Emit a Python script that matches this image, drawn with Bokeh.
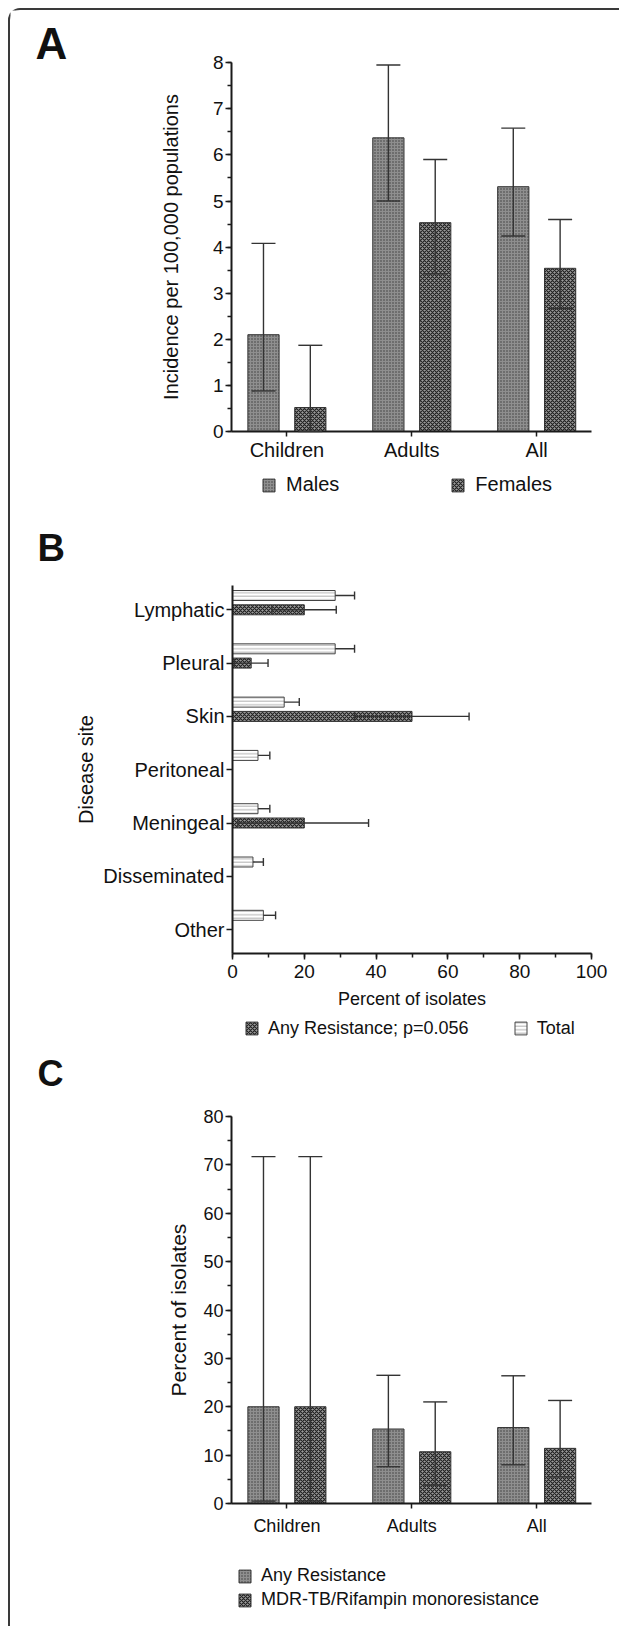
from bokeh.plotting import figure
from bokeh.models import (ColumnDataSource, Range1d, Whisker, TeeHead, Legend, LegendItem,
                          Label, FixedTicker, SingleIntervalTicker, LinearAxis)
from bokeh.layouts import column
from bokeh.transform import dodge
from bokeh.embed import file_html
from bokeh.resources import INLINE

FONT = "Liberation Sans"

# ---------------- Panel A data ----------------
groups = ["Children", "Adults", "All"]
males = [2.10, 6.37, 5.31]
males_lo = [0.88, 5.00, 4.24]
males_hi = [4.08, 7.95, 6.58]
females = [0.52, 4.53, 3.54]
females_lo = [0.00, 3.42, 2.67]
females_hi = [1.87, 5.90, 4.60]

# ---------------- Panel B data ----------------
sites = ["Lymphatic", "Pleural", "Skin", "Peritoneal", "Meningeal", "Disseminated", "Other"]
total = [28.6, 28.6, 14.4, 7.1, 7.1, 5.7, 8.6]
total_hi = [34.0, 34.0, 18.6, 10.4, 10.4, 8.6, 12.0]
resist = [20.0, 5.2, 50.0, 0.0, 20.0, 0.0, 0.0]
resist_lo = [11.0, 0.5, 34.0, 0.0, 1.5, 0.0, 0.0]
resist_hi = [28.9, 9.9, 65.9, 0.0, 37.9, 0.0, 0.0]

# ---------------- Panel C data ----------------
c_groups = ["Children", "Adults", "All"]
any_res = [20.0, 15.4, 15.7]
any_lo = [0.5, 7.6, 8.0]
any_hi = [71.7, 26.5, 26.4]
mdr = [20.0, 10.7, 11.4]
mdr_lo = [0.5, 3.8, 5.5]
mdr_hi = [71.7, 21.0, 21.3]

# ---------------- styles ----------------
DOT = dict(fill_color="#8f8f8f", hatch_pattern="dot", hatch_color="#3c3c3c",
           hatch_scale=3, hatch_weight=1, line_color="#333333", line_width=1)
CHECK = dict(fill_color="#9a9a9a", hatch_pattern="diagonal_cross", hatch_color="#222222",
             hatch_scale=4, hatch_weight=1.2, line_color="#333333", line_width=1)
LINES = dict(fill_color="white", hatch_pattern="horizontal_line", hatch_color="#b0b0b0",
             hatch_scale=3.5, hatch_weight=1, line_color="#444444", line_width=1)
EBAR = "#333333"
FIG_W = 609
OX = 10  # page x of figures' left edge (8px margin + 2px border)


class Geo:
    """Maps page pixels to data values for a figure whose frame fills the figure."""

    def __init__(self, oy, h, xref_px, xref, xs, yref_px, yref, ys):
        self.oy, self.h = oy, h
        self.xref_px, self.xref, self.xs = xref_px, xref, xs
        self.yref_px, self.yref, self.ys = yref_px, yref, ys

    def x(self, px):
        return self.xref + (px - self.xref_px) / self.xs

    def y(self, py):
        return self.yref + (self.yref_px - py) / self.ys

    def ranges(self):
        return (Range1d(self.x(OX), self.x(OX + FIG_W)),
                Range1d(self.y(self.oy + self.h), self.y(self.oy)))

    def loc(self, px, py_bottom):
        return (px - OX, self.oy + self.h - py_bottom)


def make_fig(g):
    xr, yr = g.ranges()
    p = figure(width=FIG_W, height=g.h, x_range=xr, y_range=yr,
               output_backend="svg", toolbar_location=None,
               x_axis_location=None, y_axis_location=None,
               min_border=0, min_border_left=0, min_border_right=0,
               min_border_top=0, min_border_bottom=0)
    p.xgrid.visible = False
    p.ygrid.visible = False
    p.outline_line_color = None
    p.background_fill_color = "white"
    p.border_fill_color = "white"
    return p


def style_axis(ax, tick_size, label_size):
    ax.axis_line_width = 2
    ax.axis_line_color = "#1a1a1a"
    ax.major_tick_line_width = 1.5
    ax.major_tick_line_color = "#1a1a1a"
    ax.major_tick_in = 0
    ax.major_tick_out = 6
    ax.minor_tick_in = 0
    ax.minor_tick_out = 4
    ax.minor_tick_line_width = 1.5
    ax.minor_tick_line_color = "#1a1a1a"
    ax.major_label_text_font = FONT
    ax.major_label_text_font_size = tick_size
    ax.major_label_text_color = "#111111"
    ax.major_label_standoff = 2
    ax.axis_label_text_font = FONT
    ax.axis_label_text_font_style = "normal"
    ax.axis_label_text_font_size = label_size
    ax.axis_label_text_color = "#111111"


def whisker(src, base, lo, hi, size, dim="height", lower_head=True):
    head = dict(size=size, line_color=EBAR, line_width=1.4)
    w = Whisker(source=src, base=base, lower=lo, upper=hi, dimension=dim,
                line_color=EBAR, line_width=1.4,
                upper_head=TeeHead(**head),
                lower_head=TeeHead(**head) if lower_head else None)
    w.level = "overlay"
    return w


def legend(items, loc, orientation, spacing, size, standoff):
    return Legend(items=items, orientation=orientation, location=loc, padding=0, margin=0,
                  spacing=spacing, glyph_width=15, glyph_height=16, label_height=16,
                  label_standoff=standoff, label_text_font=FONT, label_text_font_size=size,
                  label_text_color="#111111", border_line_color=None,
                  background_fill_alpha=0)


def panel_label(g, text, px, py_base, size):
    # anchor shifted so that the visible letter bottom lands on py_base
    return Label(x=g.x(px), y=g.y(py_base - 0.37 * size), text=text, text_font=FONT,
                 text_font_style="bold", text_font_size=f"{size}px", text_color="#111111",
                 text_baseline="alphabetic")


OFF = 0.1875
BW = 0.25

# ================= Panel A =================
gA = Geo(oy=10, h=510, xref_px=286.4, xref=1, xs=124.9, yref_px=431, yref=0, ys=46.1)
A_XB = (gA.x(231), gA.x(591))
pA = make_fig(gA)
srcA = ColumnDataSource(dict(x=[i + 1 for i in range(len(groups))],
                             m=males, mlo=males_lo, mhi=males_hi,
                             f=females, flo=females_lo, fhi=females_hi))
rm = pA.vbar(x=dodge("x", -OFF, range=pA.x_range), top="m", width=BW, source=srcA, **DOT)
rf = pA.vbar(x=dodge("x", OFF, range=pA.x_range), top="f", width=BW, source=srcA, **CHECK)
pA.add_layout(whisker(srcA, dodge("x", -OFF, range=pA.x_range), "mlo", "mhi", 24))
pA.add_layout(whisker(srcA, dodge("x", OFF, range=pA.x_range), "flo", "fhi", 24))

yA = LinearAxis(ticker=SingleIntervalTicker(interval=1, num_minor_ticks=2),
                fixed_location=A_XB[0], bounds=(0, 8),
                axis_label="Incidence per 100,000 populations")
style_axis(yA, "19px", "20px")
yA.axis_label_standoff = 28
pA.add_layout(yA, "left")
xA = LinearAxis(ticker=FixedTicker(ticks=[i + 1 for i in range(len(groups))]),
                fixed_location=0, bounds=A_XB,
                major_label_overrides={i + 1: g for i, g in enumerate(groups)})
style_axis(xA, "20px", "20px")
xA.minor_tick_line_color = None
xA.major_tick_out = 5
pA.add_layout(xA, "below")
pA.add_layout(legend([LegendItem(label="Males", renderers=[rm]),
                      LegendItem(label="Females", renderers=[rf])],
                     gA.loc(261, 496), "horizontal", 111, "20px", 10))
pA.add_layout(panel_label(gA, "A", 35, 59, 44))

# ================= Panel B =================
gB = Geo(oy=520, h=525, xref_px=232, xref=0, xs=3.59, yref_px=929.1, yref=1, ys=53.3)
pB = make_fig(gB)
ypos = [len(sites) - i for i in range(len(sites))]
B_YB = (gB.y(952.7), gB.y(585))
srcT = ColumnDataSource(dict(y=ypos, t=total, thi=total_hi))
keep = [i for i, v in enumerate(resist) if v > 0]
srcR = ColumnDataSource(dict(y=[ypos[i] for i in keep], r=[resist[i] for i in keep],
                             rlo=[resist_lo[i] for i in keep], rhi=[resist_hi[i] for i in keep]))
BOFF = 0.268
BH = 0.1875
rt = pB.hbar(y=dodge("y", BOFF, range=pB.y_range), right="t", left=0, height=BH, source=srcT, **LINES)
rr = pB.hbar(y="y", right="r", left=0, height=BH, source=srcR, **CHECK)
pB.add_layout(whisker(srcT, dodge("y", BOFF, range=pB.y_range), "t", "thi", 8, dim="width", lower_head=False))
pB.add_layout(whisker(srcR, "y", "rlo", "rhi", 8, dim="width"))

xB = LinearAxis(ticker=SingleIntervalTicker(interval=20, num_minor_ticks=2),
                fixed_location=B_YB[0], bounds=(0, 100), axis_label="Percent of isolates")
style_axis(xB, "19px", "18px")
xB.major_label_standoff = 6
xB.axis_label_standoff = 7
pB.add_layout(xB, "below")
yB = LinearAxis(ticker=FixedTicker(ticks=ypos), fixed_location=0, bounds=B_YB,
                major_label_overrides={y: s for y, s in zip(ypos, sites)},
                axis_label="Disease site")
style_axis(yB, "20px", "20px")
yB.minor_tick_line_color = None
yB.axis_label_standoff = 3
pB.add_layout(yB, "left")
pB.add_layout(legend([LegendItem(label="Any Resistance; p=0.056", renderers=[rr]),
                      LegendItem(label="Total", renderers=[rt])],
                     gB.loc(244, 1038.7), "horizontal", 44, "18px", 9))
pB.add_layout(panel_label(gB, "B", 37, 562, 38))

# ================= Panel C =================
gC = Geo(oy=1045, h=581, xref_px=286.4, xref=1, xs=124.9, yref_px=1503, yref=0, ys=4.8375)
pC = make_fig(gC)
srcC = ColumnDataSource(dict(x=[i + 1 for i in range(len(c_groups))],
                             a=any_res, alo=any_lo, ahi=any_hi,
                             d=mdr, dlo=mdr_lo, dhi=mdr_hi))
ra = pC.vbar(x=dodge("x", -OFF, range=pC.x_range), top="a", width=BW, source=srcC, **DOT)
rd = pC.vbar(x=dodge("x", OFF, range=pC.x_range), top="d", width=BW, source=srcC, **CHECK)
pC.add_layout(whisker(srcC, dodge("x", -OFF, range=pC.x_range), "alo", "ahi", 24))
pC.add_layout(whisker(srcC, dodge("x", OFF, range=pC.x_range), "dlo", "dhi", 24))

yC = LinearAxis(ticker=SingleIntervalTicker(interval=10, num_minor_ticks=2),
                fixed_location=A_XB[0], bounds=(0, 80), axis_label="Percent of isolates")
style_axis(yC, "18px", "21px")
yC.axis_label_standoff = 10
pC.add_layout(yC, "left")
xC = LinearAxis(ticker=FixedTicker(ticks=[i + 1 for i in range(len(c_groups))]),
                fixed_location=0, bounds=A_XB,
                major_label_overrides={i + 1: g for i, g in enumerate(c_groups)})
style_axis(xC, "18px", "18px")
xC.minor_tick_line_color = None
xC.major_tick_out = 5
xC.major_label_standoff = 7
pC.add_layout(xC, "below")
pC.add_layout(legend([LegendItem(label="Any Resistance", renderers=[ra]),
                      LegendItem(label="MDR-TB/Rifampin monoresistance", renderers=[rd])],
                     gC.loc(237, 1610), "vertical", 3, "18px", 9))
pC.add_layout(panel_label(gC, "C", 37, 1086, 36))

layout = column(pA, pB, pC, spacing=0, margin=(8, 0, 0, 8),
                styles={"border-top": "2px solid #3a3a3a", "border-left": "2px solid #3a3a3a",
                        "border-top-left-radius": "12px"})

open("out.html", "w").write(file_html(layout, INLINE))
